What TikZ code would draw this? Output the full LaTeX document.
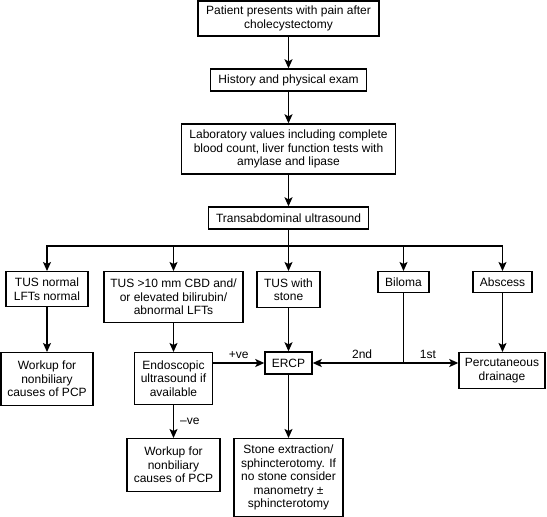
\documentclass[tikz,border=0pt]{standalone}
\usepackage{fontspec}
\setmainfont{Liberation Sans}
\usetikzlibrary{arrows.meta, positioning}
\tikzset{
  >=Stealth,
  flowarrow/.style={-{Stealth[length=9pt, width=8pt, inset=2pt]}, line width=1.4pt, black},
  flowline/.style={line width=1.4pt, black}
}

\begin{document}
\begin{tikzpicture}[x=1pt, y=-1pt,
    box/.style={draw, line width=1.4pt, align=center, inner sep=1pt, font=\fontsize{12}{13.5}\selectfont},
    lbl/.style={font=\fontsize{12}{13.5}\selectfont, inner sep=2pt}]

    \useasboundingbox (0,0) rectangle (547,517);

    % Column positions
    \def\xA{47}
    \def\xB{173.5}
    \def\xC{288.5}
    \def\xD{403.5}
    \def\xE{502.5}

    % Top chain
    \node[box, minimum width=181, minimum height=35] (patient) at (\xC, 18.5) {Patient presents with pain after\\cholecystectomy};
    \node[box, minimum width=156, minimum height=22] (history) at (\xC, 80) {History and physical exam};
    \node[box, minimum width=214, minimum height=50] (lab) at (\xC, 149) {Laboratory values including complete\\blood count, liver function tests with\\amylase and lipase};
    \node[box, minimum width=160, minimum height=22] (tus) at (\xC, 218) {Transabdominal ultrasound};

    % Ultrasound findings
    \node[box, minimum width=82, minimum height=35, anchor=north] (normal) at (\xA, 271) {TUS normal\\LFTs normal};
    \node[box, minimum width=139, minimum height=51, anchor=north] (cbd) at (\xB, 271) {TUS >10 mm CBD and/\\or elevated bilirubin/\\abnormal LFTs};
    \node[box, minimum width=63, minimum height=36, anchor=north] (stone) at (\xC, 271) {TUS with\\stone};
    \node[box, minimum width=51, minimum height=21, anchor=north] (biloma) at (\xD, 271) {Biloma};
    \node[box, minimum width=59, minimum height=21, anchor=north] (abscess) at (\xE, 271) {Abscess};

    % Second level
    \node[box, minimum width=92, minimum height=53, anchor=north] (workupA) at (\xA, 352) {Workup for\\nonbiliary\\causes of PCP};
    \node[box, minimum width=78, minimum height=52, anchor=north] (eus) at (\xB, 352) {Endoscopic\\ultrasound if\\available};
    \node[box, minimum width=47, minimum height=22] (ercp) at (\xC, 363) {ERCP};
    \node[box, minimum width=86, minimum height=36, anchor=north] (drain) at (502, 352) {Percutaneous\\drainage};

    % Bottom level
    \node[box, minimum width=93, minimum height=53, anchor=north] (workupB) at (\xB, 438) {Workup for\\nonbiliary\\causes of PCP};
    \node[box, minimum width=109, minimum height=78, anchor=north] (extract) at (\xC, 438) {Stone extraction/\\sphincterotomy. If\\no stone consider\\manometry ±\\sphincterotomy};

    % Arrows down the top chain
    \draw[flowarrow] (patient) -- (history);
    \draw[flowarrow] (history) -- (lab);
    \draw[flowarrow] (lab) -- (tus);

    % Branching from ultrasound
    \coordinate (split) at (\xC, 246);
    \draw[flowline] (tus) -- (split);
    \draw[flowarrow] (split) -| (normal);
    \draw[flowarrow] (split) -| (cbd);
    \draw[flowarrow] (split) -- (stone);
    \draw[flowarrow] (split) -| (biloma);
    \draw[flowarrow] (split) -| (abscess);

    % Findings to next steps
    \draw[flowarrow] (normal) -- (workupA);
    \draw[flowarrow] (cbd) -- (eus);
    \draw[flowarrow] (stone) -- (ercp);
    \draw[flowarrow] (abscess.south) -- (abscess.south |- drain.north);

    \draw[flowarrow] (eus.east |- ercp.west) -- (ercp.west) node[lbl, midway, above, yshift=2pt] {+ve};
    \draw[flowarrow] (eus) -- (workupB) node[lbl, midway, right, xshift=4pt] {–ve};

    % Biloma splits to ERCP and drainage
    \coordinate (bsplit) at (biloma |- ercp);
    \draw[flowline] (biloma) -- (bsplit);
    \draw[flowarrow] (bsplit) -- (ercp) node[lbl, midway, above, yshift=2pt, xshift=4pt] {2nd};
    \draw[flowarrow] (bsplit) -- (drain.west |- ercp) node[lbl, midway, above, yshift=2pt, xshift=-3pt] {1st};

    \draw[flowarrow] (ercp) -- (extract);

\end{tikzpicture}
\end{document}
